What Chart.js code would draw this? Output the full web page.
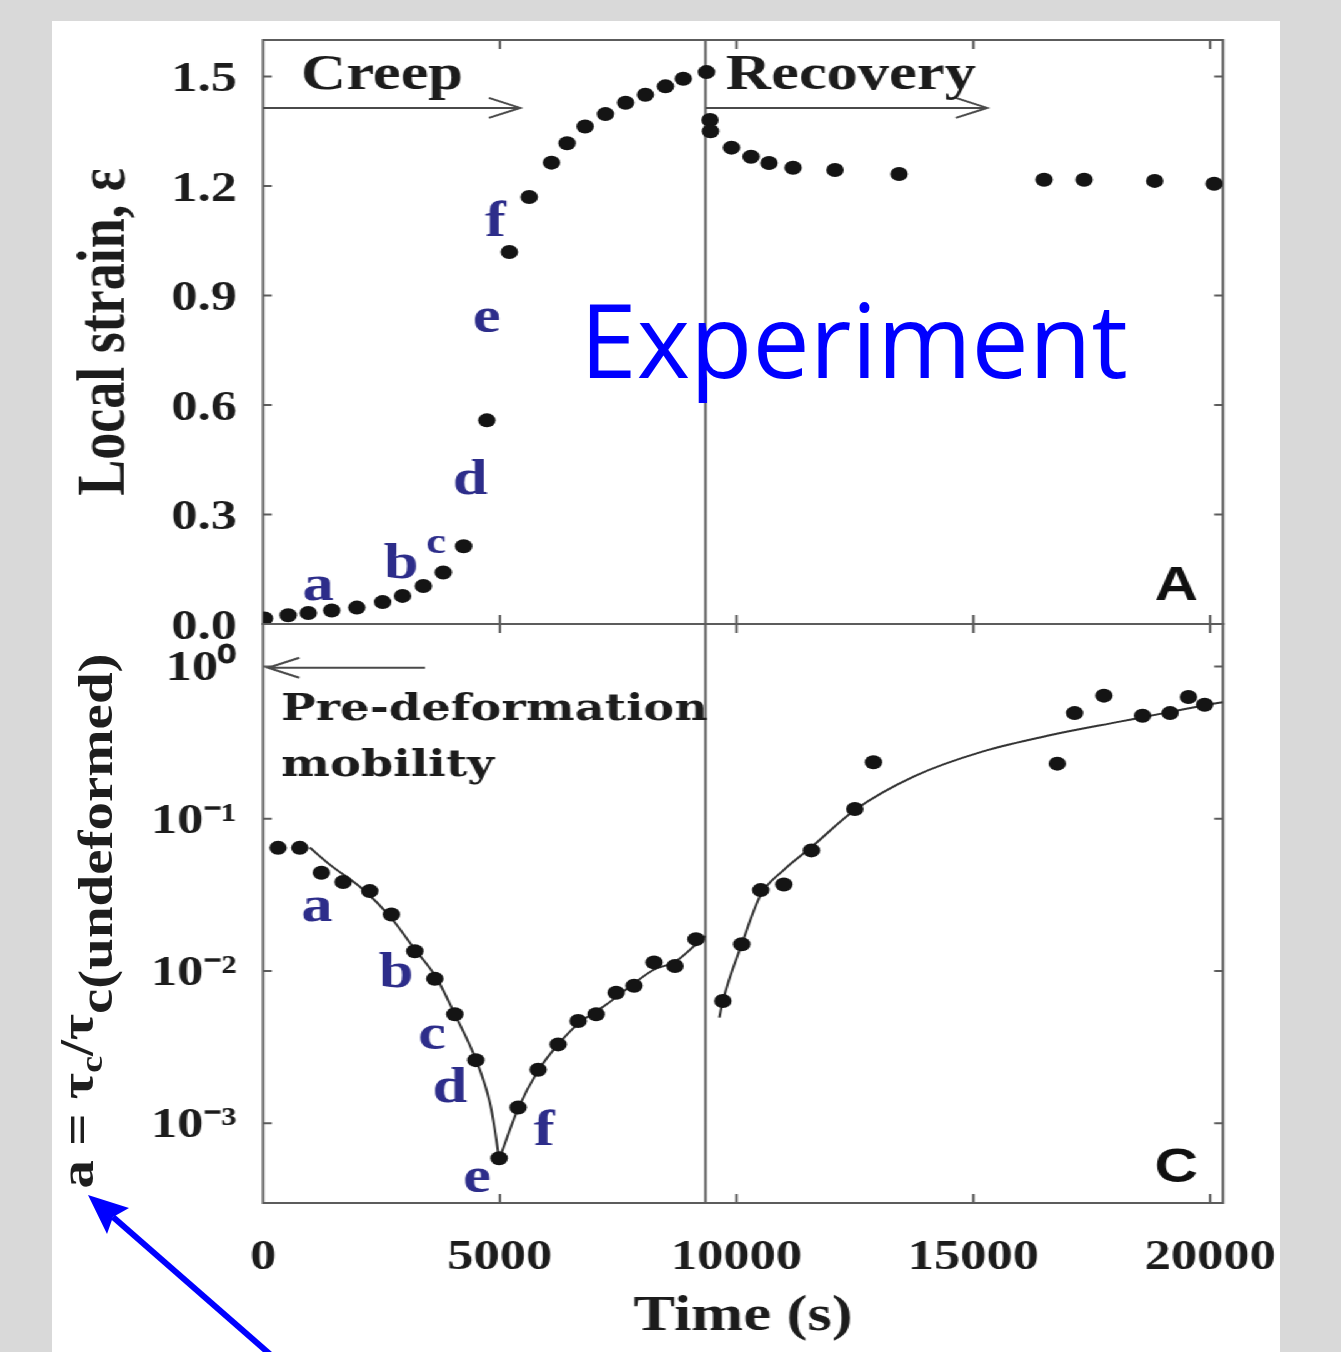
<!DOCTYPE html>
<html>
<head>
<meta charset="utf-8">
<script src="https://cdn.jsdelivr.net/npm/chart.js@4.4.1/dist/chart.umd.min.js"></script>
<style>
  html, body { margin: 0; padding: 0; }
  body { width: 1341px; height: 1352px; background: #d9d9d9; position: relative; overflow: hidden; }
  #panel { position: absolute; left: 52px; top: 21px; width: 1228px; height: 1331px; background: #fff; }
  /* the source figure is stretched sideways, so the charts are drawn narrow and scaled up */
  #fig { position: absolute; left: 0; top: 0; width: 1073px; height: 1352px; transform: scaleX(1.25); transform-origin: 0 0; }
  #fig canvas { position: absolute; left: 0; }
  #strainChart { top: 0; }
  #mobChart { top: 600px; }
  #overlay { position: absolute; left: 0; top: 0; }
</style>
</head>
<body>
<div id="panel"></div>
<div id="fig">
  <canvas id="strainChart" width="1073" height="660"></canvas>
  <canvas id="mobChart" width="1073" height="752"></canvas>
</div>
<svg id="overlay" width="1341" height="1352">
  <text transform="translate(93,921) rotate(-90)" text-anchor="middle" font-family="Liberation Serif" font-weight="bold"
        font-size="48" fill="#1e1e1e" textLength="535" lengthAdjust="spacingAndGlyphs">a = τ<tspan font-size="32" dy="9">c</tspan><tspan dy="-9">/τ</tspan><tspan dy="19">c(undeformed)</tspan></text>
  <text x="580" y="378" font-family="Open Sans" font-size="102" fill="#0000ff">Experiment</text>
  <line x1="113" y1="1217" x2="272" y2="1356" stroke="#0000ff" stroke-width="6"/>
  <polygon points="88,1195 129,1208 113,1217 107,1234" fill="#0000ff"/>
</svg>
<script>
const S = 1.25;                 // horizontal stretch of the figure
const AXIS_W = 263 / S;         // left edge of plot area (canvas units)
const PAD_R = 1073 - 1223 / S;  // right padding

// time axis (s)
const timeTicks = [0, 5000, 10000, 15000, 20000];
const timeMax = 20270;
const splitTime = 9345;         // creep -> recovery

// panel A: local strain
const strainTicks = [0, 0.3, 0.6, 0.9, 1.2, 1.5];
const strainTime = [30, 530, 955, 1450, 1980, 2525, 2945, 3385, 3805, 4235, 4725, 5200, 5620, 6090, 6420, 6800,
  7230, 7655, 8075, 8500, 8875, 9366, 9440, 9450, 9894, 10306, 10686, 11193, 12080, 13432, 16494, 17339, 18830, 20084];
const strainValue = [0.015, 0.024, 0.030, 0.037, 0.045, 0.060, 0.077, 0.104, 0.141, 0.213, 0.558, 1.019, 1.170, 1.264,
  1.317, 1.363, 1.397, 1.428, 1.450, 1.473, 1.494, 1.512, 1.381, 1.350, 1.305, 1.280, 1.263, 1.250, 1.244, 1.233,
  1.217, 1.217, 1.214, 1.206];

// panel C: a = tau_c / tau_c(undeformed)
const mobTicks = [1, 0.1, 0.01, 0.001];
const mobTickLabels = ['10⁰', '10⁻¹', '10⁻²', '10⁻³'];
const mobTime = [317, 775, 1231, 1690, 2253, 2710, 3204, 3626, 4049, 4492, 4984, 5385, 5808, 6230, 6653, 7033, 7455,
  7835, 8258, 8701, 9145, 9711, 10110, 10511, 10999, 11582, 12498, 12891, 16773, 17138, 17757, 18572, 19155, 19542, 19884];
const mobValue = [0.0644, 0.0644, 0.0442, 0.0384, 0.0335, 0.0235, 0.0135, 0.0089, 0.0052, 0.0026, 0.00059, 0.00127,
  0.00225, 0.0033, 0.0047, 0.0052, 0.0072, 0.0080, 0.0114, 0.0108, 0.0162, 0.00636, 0.0150, 0.034, 0.037, 0.062,
  0.116, 0.235, 0.230, 0.494, 0.643, 0.475, 0.494, 0.630, 0.561];

// fitted curves of panel C
const fitDownTime = [986, 1409, 2112, 2676, 3204, 3660, 4049, 4505, 4788, 4893, 4984];
const fitDownValue = [0.0647, 0.050, 0.0343, 0.0229, 0.0139, 0.00904, 0.0052, 0.00257, 0.00137, 0.00091, 0.00058];
const fitUpTime = [4984, 5385, 5808, 6230, 6653, 7240, 7650, 8250, 8700, 9145, 9340];
const fitUpValue = [0.00058, 0.00125, 0.00222, 0.0033, 0.0045, 0.0060, 0.0075, 0.0102, 0.0115, 0.0150, 0.0170];
const fitRecTime = [9637, 9711, 10110, 10511, 10982, 11567, 12513, 13749, 15206, 16663, 18120, 19214, 20160, 20270];
const fitRecValue = [0.00494, 0.00636, 0.0150, 0.0316, 0.0457, 0.0646, 0.115, 0.190, 0.277, 0.356, 0.436, 0.507, 0.575, 0.582];

// stage letters
const stageLetters = ['a', 'b', 'c', 'd', 'e', 'f'];
const strainLetterTime = [1162, 2914, 3654, 4372, 4722, 4910];
const strainLetterValue = [0.0669, 0.126, 0.195, 0.357, 0.801, 1.063];
const mobLetterTime = [1140, 2809, 3569, 3949, 4520, 5935];
const mobLetterValue = [0.0212, 0.00782, 0.00307, 0.00138, 0.000354, 0.000719];

const pts = (xs, ys) => xs.map((x, i) => ({x: x, y: ys[i]}));
const INK = '#1c1c1c';
const FRAME = '#5c5c5c';
const NAVY = '#2d2d8a';
const SERIF = "'Liberation Serif', 'Times New Roman', serif";

function drawArrow(ctx, x0, y, x1) {
  const dir = Math.sign(x1 - x0);
  ctx.beginPath();
  ctx.moveTo(x0, y); ctx.lineTo(x1, y);
  ctx.moveTo(x1 - dir * 25, y - 10); ctx.lineTo(x1, y); ctx.lineTo(x1 - dir * 25, y + 10);
  ctx.stroke();
}

function framePlugin(yTicks, extras) {
  return {
    id: 'frame',
    beforeDatasetsDraw(chart) {
      const {ctx, chartArea: a, scales: {x, y}} = chart;
      ctx.save();
      ctx.strokeStyle = FRAME;
      ctx.lineWidth = 2;
      ctx.strokeRect(a.left, a.top, a.width, a.height);
      ctx.beginPath();
      timeTicks.forEach(v => {
        if (v <= x.min) return;
        const px = x.getPixelForValue(v);
        ctx.moveTo(px, a.top); ctx.lineTo(px, a.top + 9);
        ctx.moveTo(px, a.bottom); ctx.lineTo(px, a.bottom - 9);
      });
      yTicks.forEach(v => {
        const py = y.getPixelForValue(v);
        if (py >= a.bottom - 1 || py <= a.top + 1) return;
        ctx.moveTo(a.left, py); ctx.lineTo(a.left + 7, py);
        ctx.moveTo(a.right, py); ctx.lineTo(a.right - 7, py);
      });
      const sx = x.getPixelForValue(splitTime);
      ctx.moveTo(sx, a.top); ctx.lineTo(sx, a.bottom);
      ctx.stroke();
      ctx.restore();
    },
    afterDatasetsDraw(chart) {
      const {ctx, scales: {x, y}} = chart;
      ctx.save();
      ctx.strokeStyle = '#4a4a4a';
      ctx.lineWidth = 2;
      extras.arrows.forEach(ar => drawArrow(ctx, x.getPixelForValue(ar[0]), y.getPixelForValue(ar[2]), x.getPixelForValue(ar[1])));
      ctx.textBaseline = 'alphabetic';
      extras.texts.forEach(t => {
        ctx.font = t.font;
        ctx.fillStyle = t.color;
        ctx.textAlign = t.align;
        ctx.fillText(t.text, x.getPixelForValue(t.x), y.getPixelForValue(t.y));
      });
      ctx.restore();
    }
  };
}

function letterTexts(times, values, smallIndex) {
  return stageLetters.map((l, i) => ({
    text: l, x: times[i], y: values[i], align: 'center', color: NAVY,
    font: 'bold ' + (i === smallIndex ? 36 : 50) + 'px ' + SERIF
  }));
}

const tickFont = {family: SERIF, size: 42, weight: 'bold'};
// keep label overhang from shrinking the plot area
const fixY = s => { s.width = AXIS_W; s.paddingTop = 0; s.paddingBottom = 0; };
const fixX = s => { s.height = 149; s.paddingLeft = 0; s.paddingRight = 0; };
const noGrid = {display: false, drawTicks: false};

// ---- panel A ----
new Chart(document.getElementById('strainChart'), {
  type: 'scatter',
  data: {
    datasets: [{
      data: pts(strainTime, strainValue),
      pointRadius: 7, pointHoverRadius: 7, backgroundColor: '#141414', borderWidth: 0
    }]
  },
  options: {
    responsive: false, animation: false, events: [],
    layout: {padding: {left: 0, right: PAD_R, top: 40, bottom: 36}},
    plugins: {legend: {display: false}, tooltip: {enabled: false}},
    scales: {
      x: {type: 'linear', min: 0, max: timeMax, display: false},
      y: {
        type: 'linear', min: 0, max: 1.6,
        afterBuildTicks: s => { s.ticks = strainTicks.map(v => ({value: v})); },
        afterFit: fixY,
        grid: noGrid, border: {display: false},
        ticks: {font: tickFont, color: INK, padding: 21, labelOffset: 4, callback: v => v.toFixed(1)},
        title: {display: true, text: 'Local strain, ε', color: INK,
          font: {family: SERIF, size: 54, weight: 'bold'}, padding: {top: 53, bottom: 0}}
      }
    }
  },
  plugins: [framePlugin(strainTicks, {
    arrows: [[0, 5428, 1.414], [splitTime, 15290, 1.414]],
    texts: [
      {text: 'Creep', x: 803, y: 1.466, align: 'left', color: INK, font: 'bold 50px ' + SERIF},
      {text: 'Recovery', x: 9778, y: 1.466, align: 'left', color: INK, font: 'bold 50px ' + SERIF},
      {text: 'A', x: 19282, y: 0.0658, align: 'center', color: '#111', font: "bold 48px 'Liberation Sans', Arial, sans-serif"}
    ].concat(letterTexts(strainLetterTime, strainLetterValue, 2))
  })]
});

// ---- panel C ----
const fitStyle = {showLine: true, pointRadius: 0, pointHoverRadius: 0, borderColor: '#333', borderWidth: 2,
  cubicInterpolationMode: 'monotone', order: 1};

new Chart(document.getElementById('mobChart'), {
  type: 'scatter',
  data: {
    datasets: [
      Object.assign({data: pts(fitDownTime, fitDownValue)}, fitStyle),
      Object.assign({data: pts(fitUpTime, fitUpValue)}, fitStyle),
      Object.assign({data: pts(fitRecTime, fitRecValue)}, fitStyle),
      {data: pts(mobTime, mobValue), pointRadius: 7, pointHoverRadius: 7, backgroundColor: '#141414', borderWidth: 0, order: 0}
    ]
  },
  options: {
    responsive: false, animation: false, events: [],
    layout: {padding: {left: 0, right: PAD_R, top: 24, bottom: 0}},
    plugins: {legend: {display: false}, tooltip: {enabled: false}},
    scales: {
      x: {
        type: 'linear', min: 0, max: timeMax,
        afterBuildTicks: s => { s.ticks = timeTicks.map(v => ({value: v})); },
        afterFit: fixX,
        grid: noGrid, border: {display: false},
        ticks: {font: tickFont, color: INK, padding: 30, maxRotation: 0, autoSkip: false, callback: v => String(v)},
        title: {display: true, text: 'Time (s)', color: INK,
          font: {family: SERIF, size: 50, weight: 'bold'}, padding: {top: 0, bottom: 5}}
      },
      y: {
        type: 'logarithmic', min: 3.0e-4, max: 1.9,
        afterBuildTicks: s => { s.ticks = mobTicks.map(v => ({value: v})); },
        afterFit: fixY,
        grid: noGrid, border: {display: false},
        ticks: {font: tickFont, color: INK, padding: 21, labelOffset: 3, autoSkip: false,
          callback: v => mobTickLabels[mobTicks.indexOf(v)]}
      }
    }
  },
  plugins: [framePlugin(mobTicks, {
    arrows: [[3421, 106, 0.98]],
    texts: [
      {text: 'Pre-deformation', x: 380, y: 0.447, align: 'left', color: INK, font: "bold 37px 'DejaVu Serif', serif"},
      {text: 'mobility', x: 380, y: 0.192, align: 'left', color: INK, font: "bold 37px 'DejaVu Serif', serif"},
      {text: 'C', x: 19282, y: 4.11e-4, align: 'center', color: '#111', font: "bold 48px 'Liberation Sans', Arial, sans-serif"}
    ].concat(letterTexts(mobLetterTime, mobLetterValue, -1))
  })]
});
</script>
</body>
</html>
